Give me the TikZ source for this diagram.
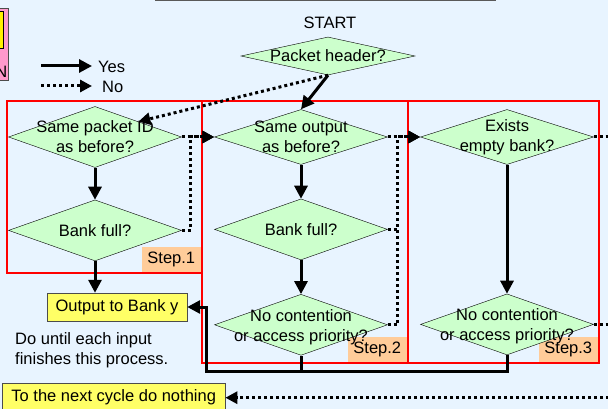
\documentclass[tikz,border=0pt]{standalone}
\usepackage{fontspec}
\setmainfont{Liberation Sans}
\usepackage{xcolor}
\usetikzlibrary{positioning, arrows.meta, calc, shapes.geometric}

\definecolor{bgblue}{RGB}{232,244,255}
\definecolor{dgreen}{RGB}{204,255,204}
\definecolor{byellow}{RGB}{255,255,102}
\definecolor{steporange}{RGB}{255,204,153}
\definecolor{pinkbox}{RGB}{255,153,204}

\begin{document}
\begin{tikzpicture}[x=1pt, y=-1pt,
    every node/.style={font=\fontsize{16.5}{20}\selectfont},
    decision/.style={diamond, draw=black, fill=dgreen, minimum width=173pt, minimum height=61pt, inner sep=0pt},
    dtext/.style={align=center, inner sep=0pt},
    frame/.style={rectangle, draw=red, line width=2.2pt, outer sep=0pt, anchor=north west},
    steplabel/.style={rectangle, fill=steporange, minimum width=59pt, minimum height=25pt, inner sep=0pt, anchor=south east},
    outbox/.style={rectangle, draw=black!70, fill=byellow, inner sep=0pt},
    yesline/.style={line width=3pt, -{Triangle[length=13pt, width=13pt]}},
    noline/.style={line width=3pt, dash pattern=on 3pt off 3pt, -{Triangle[length=12pt, width=12pt]}},
]
\fill[bgblue] (0,0) rectangle (608,409);
\useasboundingbox (0,0) rectangle (608,409);
\draw[line width=2pt, black!65] (155,0) -- (496,0);

\node[rectangle, draw=black!70, fill=pinkbox, minimum width=20pt, minimum height=72pt, anchor=north east, outer sep=0pt](pk) at (8,8) {};
\node[rectangle, draw=black, fill=yellow, minimum width=10pt, minimum height=37pt, anchor=north east, outer sep=0pt](pkY) at (3,11) {};
\node[anchor=south east, inner sep=0pt](pkN) at (7.5,78) {N};

\coordinate (yesS) at (41,66);
\coordinate (noS) at (41,86);
\node[anchor=west, inner sep=0pt](yes) at (98,67) {Yes};
\node[anchor=west, inner sep=0pt](no) at (102,87) {No};
\draw[yesline, shorten >=6pt] (yesS) -- (yesS -| yes.west);
\draw[noline, shorten >=10pt] (noS) -- (noS -| no.west);

\node(start) at (330,23) {START};
\node[decision, minimum width=174pt, minimum height=38pt](PH) at (328,56) {};
\node[dtext](PHt) at (PH) {Packet header?};

\node[frame, minimum width=195pt, minimum height=172pt](S1) at (7,101) {};
\node[frame, minimum width=206pt, minimum height=262pt](S2) at (202,101) {};
\node[frame, minimum width=191pt, minimum height=262pt](S3) at (408,101) {};
\node[steplabel, xshift=-1pt, yshift=1pt](L1) at (S1.south east) {Step.1};
\node[steplabel, xshift=-1pt, yshift=1pt](L2) at (S2.south east) {Step.2};
\node[steplabel, xshift=-1pt, yshift=1pt](L3) at (S3.south east) {Step.3};

\node[decision](D1) at (95,137) {};
\node[decision](D2)[below=32pt of D1] {};
\node[decision, minimum height=55pt](D3) at (301,137) {};
\node[decision](D4)[below=34pt of D3] {};
\node[decision](D5)[below=34pt of D4] {};
\node[decision, minimum height=55pt](D6) at (507,137) {};
\node[decision](D7)[below=129pt of D6] {};

\node[dtext](D1t) at (D1) {Same packet ID\\as before?};
\node[dtext](D2t) at (D2) {Bank full?};
\node[dtext](D3t) at (D3) {Same output\\as before?};
\node[dtext](D4t) at (D4) {Bank full?};
\node[dtext, yshift=-2pt](D5t) at (D5) {No contention\\or access priority?};
\node[dtext](D6t) at (D6) {Exists\\empty bank?};
\node[dtext, yshift=-2pt](D7t) at (D7) {No contention\\or access priority?};

\node[outbox, minimum width=140pt, minimum height=28pt](out) at (117,307) {Output to Bank y};
\node[anchor=west, align=left, inner sep=0pt](note) at (15,350) {Do until each input\\finishes this process.};
\node[outbox, minimum width=223pt, minimum height=29pt, anchor=north west](next) at (2,383) {To the next cycle do nothing};

\coordinate (rim) at (615,395);
\coordinate (back) at (206,371);

\draw[yesline] (PH.south) -- (D3.north);
\draw[noline] (PH.south) -- (D1.north east);
\draw[yesline] (D1) -- (D2);
\draw[yesline] (D2.south) -- (D2.south |- out.north);
\draw[noline] (D1.east) -- (D3.west);
\draw[noline] (D2.east) -- ++(9,0) |- (D3.west);
\draw[yesline] (D3) -- (D4);
\draw[yesline] (D4) -- (D5);
\draw[noline] (D3.east) -- (D6.west);
\draw[noline, -] (D4.east) -- ++(10,0);
\draw[noline] (D5.east) -- ++(10,0) |- (D6.west);
\draw[yesline] (D6) -- (D7);
\draw[noline, -] (D6.east) -- (D6.east -| rim);
\draw[noline, -] (D7.east) -- (D7.east -| rim);
\draw[noline] (rim |- next.east) -- (next.east);
\draw[line width=3pt] (D5.south) -- (D5.south |- back);
\draw[yesline] (D7.south) |- (back) |- (out.east);
\end{tikzpicture}
\end{document}
